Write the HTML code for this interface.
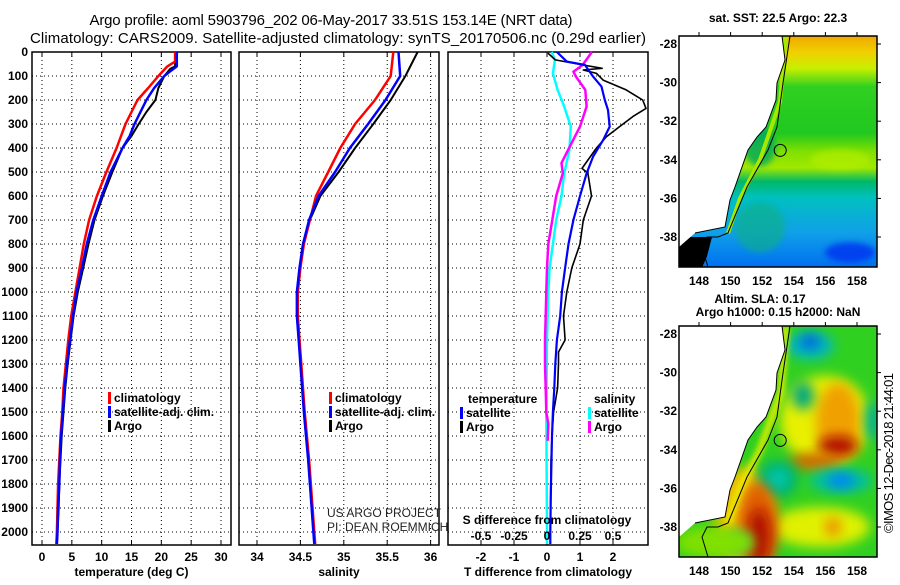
<!DOCTYPE html>
<html><head><meta charset="utf-8"><style>
html,body{margin:0;padding:0;background:#fff;}
svg text{font-family:"Liberation Sans",sans-serif;}
.b{font-weight:bold;font-size:12px;}
</style></head><body>
<svg id="s" width="900" height="580" viewBox="0 0 900 580" xmlns="http://www.w3.org/2000/svg">
<defs>
<filter id="bl" x="-50%" y="-50%" width="200%" height="200%"><feGaussianBlur stdDeviation="6"/></filter>
<filter id="bl2" x="-50%" y="-50%" width="200%" height="200%"><feGaussianBlur stdDeviation="3"/></filter>
<linearGradient id="sstg" x1="0" y1="0" x2="0" y2="1">
<stop offset="0" stop-color="#f0a800"/><stop offset="0.07" stop-color="#f0d000"/><stop offset="0.14" stop-color="#c8f000"/>
<stop offset="0.22" stop-color="#30d020"/><stop offset="0.42" stop-color="#20c820"/><stop offset="0.5" stop-color="#80e000"/>
<stop offset="0.57" stop-color="#a0e800"/><stop offset="0.63" stop-color="#00b868"/><stop offset="0.7" stop-color="#00c0c0"/>
<stop offset="0.85" stop-color="#10a0e8"/><stop offset="1" stop-color="#0070f0"/></linearGradient>
<clipPath id="c1"><rect x="679" y="36" width="198" height="231"/></clipPath>
<clipPath id="c2"><rect x="679" y="326" width="198" height="231"/></clipPath>
</defs>
<text x="331" y="25" font-size="15" text-anchor="middle" textLength="483">Argo profile: aoml 5903796_202 06-May-2017 33.51S 153.14E (NRT data)</text>
<text x="338" y="43" font-size="15" text-anchor="middle" textLength="616">Climatology: CARS2009. Satellite-adjusted climatology: synTS_20170506.nc (0.29d earlier)</text>
<g id="plots"></g>
<g id="maps"></g>
<text transform="translate(893,453) rotate(-90)" font-size="13" text-anchor="middle" textLength="160">©IMOS 12-Dec-2018 21:44:01</text>
</svg>
<script>
// ---- data ----
const tDepth=[0,40,60,100,150,200,300,400,500,600,700,800,900,1000,1100,1200,1300,1400,1500,1600,1700,1800,1900,2000,2050];
const tClim=[22.3,22.3,21,19.5,17.8,16,14,12.5,10.8,9.2,7.9,7,6.3,5.6,4.9,4.4,4,3.6,3.4,3.1,2.9,2.7,2.6,2.5,2.4];
const tDepthS=[0,60,80,100,150,200,300,350,400,500,600,700,800,900,1000,1100,1200,1300,1400,1500,1600,1700,1800,1900,2000,2050];
const tSat=[22.6,22.6,21.5,20.5,18.8,17.5,15.5,14.7,13.5,11.5,10,8.6,7.5,6.7,5.8,5.2,4.7,4.2,3.8,3.5,3.2,3,2.9,2.7,2.6,2.5];
const tDepthA=[0,60,70,100,150,200,250,300,350,400,500,600,700,800,900,1000,1100,1200,1300,1400,1500,1600,1700,1800,1900,2000,2050];
const tArgo=[22.3,22.3,21.5,20.5,19.5,19,17.5,16.2,15,13.5,11.8,10.2,8.8,7.8,6.9,6,5.3,4.8,4.3,3.9,3.6,3.3,3.1,2.9,2.8,2.6,2.5];
const sDepth=[0,100,200,300,400,500,600,700,800,900,1000,1100,1200,1300,1500,1700,2000,2050];
const sClim=[35.57,35.54,35.36,35.13,34.96,34.82,34.68,34.61,34.54,34.5,34.47,34.47,34.49,34.51,34.55,34.6,34.66,34.67];
const sSat=[35.63,35.65,35.48,35.28,35.07,34.9,34.71,34.6,34.53,34.49,34.46,34.46,34.48,34.5,34.54,34.59,34.65,34.66];
const sArgo=[35.85,35.71,35.54,35.34,35.13,34.94,34.73,34.61,34.53,34.49,34.46,34.46,34.48,34.51,34.54,34.59,34.65,34.66];
const dTDepthA=[5,33,54,68,75,89,117,158,200,235,269,311,353,400,485,505,600,700,800,900,1000,1100,1200,1250,1300,1400,1500,1600,1700,2000,2050];
const dTArgo=[0.03,0.25,1.1,1.67,1.1,1.5,1.7,2.4,2.9,3.0,2.6,2.2,1.8,1.5,1.06,1.24,1.35,1.1,1.0,0.75,0.6,0.5,0.55,0.35,0.35,0.32,0.2,0.15,0.12,0.1,0.1];
const dTDepthS=[0,40,54,103,144,200,242,311,367,435,506,600,700,800,900,1000,1100,1200,1300,1400,1500,1600,1800,2000,2050];
const dTSat=[0.3,0.6,1.15,1.4,1.65,1.75,1.85,1.9,1.7,1.4,1.2,1.0,0.8,0.65,0.55,0.45,0.4,0.3,0.25,0.22,0.18,0.15,0.12,0.1,0.1];
const dSDepthS=[0,33,89,158,227,311,408,506,600,700,800,900,1000,1200,1500,2000,2050];
const dSSat=[0.035,0.06,0.045,0.08,0.13,0.18,0.17,0.13,0.11,0.07,0.045,0.02,0.01,0,-0.005,0,0];
const dSDepthA=[0,54,82,103,158,227,311,408,463,506,600,700,800,900,1000,1100,1200,1300,1400,1500,1550,1620];
const dSArgo=[0.34,0.27,0.2,0.22,0.29,0.3,0.25,0.16,0.11,0.12,0.07,0.04,0.01,0,-0.005,-0.01,-0.015,-0.015,-0.01,-0.005,0.01,0.005];
const depthTicks=[0,100,200,300,400,500,600,700,800,900,1000,1100,1200,1300,1400,1500,1600,1700,1800,1900,2000];
const tTicks=[0,5,10,15,20,25,30];
const sTicks=[34,34.5,35,35.5,36];
const dTTicks=[-2,-1,0,1,2];
const dSTickLabels=['-0.5','-0.25','0','0.25','0.5'];
const dSTicks=[-0.5,-0.25,0,0.25,0.5];

const NS='http://www.w3.org/2000/svg';
function mk(tag,attrs,parent,txt){const e=document.createElementNS(NS,tag);for(const k in attrs)e.setAttribute(k,attrs[k]);if(txt!==undefined)e.textContent=txt;parent.appendChild(e);return e;}
const y=d=>52+d*0.24;
const PT=52,PB=545;
const xT=v=>42+v*(179/30);
const xS=v=>257+(v-34)*86.8;
const xD=v=>547+v*33;
const xDS=v=>547+v*132;
const G=document.getElementById('plots');

function panel(name,x0,x1,xs,ticks,labels,title){
  const g=mk('g',{},G);
  
  
  ticks.forEach(t=>{const l=mk('line',{x1:xs(t),x2:xs(t),y1:PT,y2:PB,stroke:'#000','stroke-width':1,'stroke-dasharray':'1,3'},g);
    });
  depthTicks.slice(1).forEach(d=>{const l=mk('line',{x1:x0,x2:x1,y1:y(d),y2:y(d),stroke:'#000','stroke-width':1,'stroke-dasharray':'1,3'},g);
    });
  ticks.forEach(t=>{mk('line',{x1:xs(t),x2:xs(t),y1:PB,y2:PB-5,stroke:'#000'},g);mk('line',{x1:xs(t),x2:xs(t),y1:PT,y2:PT+5,stroke:'#000'},g);});
  const r=mk('rect',{x:x0,y:PT,width:x1-x0,height:PB-PT,fill:'none',stroke:'#000','stroke-width':1.5},g);
  
  ticks.forEach((t,i)=>{const tx=mk('text',{x:xs(t),y:561,'text-anchor':'middle',class:'b'},g,labels[i]);
    });
  const tt=mk('text',{x:(x0+x1)/2,y:576,'text-anchor':'middle',class:'b'},g,title);
  
  return g;
}
function line(g,name,depths,vals,xs,col,w){
  const pts=depths.map((d,i)=>xs(vals[i]).toFixed(1)+','+y(d).toFixed(1)).join(' ');
  const p=mk('polyline',{points:pts,fill:'none',stroke:col,'stroke-width':w,'stroke-linejoin':'round'},g);
  
  
}
function legend(g,x,yy,items){
  items.forEach((it,i)=>{const cy=yy+i*14;
    mk('rect',{x:x,y:cy-6,width:3,height:12,fill:it[1]},g);
    const t=mk('text',{x:x+6,y:cy+4,class:'b'},g,it[0]);
    });
}
depthTicks.forEach(d=>{const t=mk('text',{x:28,y:y(d)+4,'text-anchor':'end',class:'b'},G,String(d));
  });

const g1=panel('temperature-panel',32,231,xT,tTicks,tTicks.map(String),'temperature (deg C)');
line(g1,'temperature-argo-line',tDepthA,tArgo,xT,'#000',2);
line(g1,'temperature-climatology-line',tDepth,tClim,xT,'#f00',2.5);
line(g1,'temperature-satellite-line',tDepthS,tSat,xT,'#00f',2.5);
legend(g1,108,398,[['climatology','#f00'],['satellite-adj. clim.','#00f'],['Argo','#000']]);

const g2=panel('salinity-panel',239,439,xS,sTicks,sTicks.map(String),'salinity');
line(g2,'salinity-argo-line',sDepth,sArgo,xS,'#000',2);
line(g2,'salinity-climatology-line',sDepth,sClim,xS,'#f00',2.5);
line(g2,'salinity-satellite-line',sDepth,sSat,xS,'#00f',2.5);
legend(g2,329,398,[['climatology','#f00'],['satellite-adj. clim.','#00f'],['Argo','#000']]);
const u1=mk('text',{x:327,y:517,'font-size':12,fill:'#222'},g2,'US ARGO PROJECT');

const u2=mk('text',{x:327,y:531,'font-size':12,fill:'#222'},g2,'PI: DEAN ROEMMICH');


const g3=panel('difference-panel',448,648,xD,dTTicks,dTTicks.map(String),'T difference from climatology');
line(g3,'salinity-diff-satellite-line',dSDepthS,dSSat,xDS,'#00ffff',2.5);
line(g3,'salinity-diff-argo-line',dSDepthA,dSArgo,xDS,'#ff00ff',2.5);
line(g3,'temperature-diff-argo-line',dTDepthA,dTArgo,xD,'#000',1.6);
line(g3,'temperature-diff-satellite-line',dTDepthS,dTSat,xD,'#00f',2.2);
const st=mk('text',{x:547,y:524,'text-anchor':'middle',class:'b'},g3,'S difference from climatology');

dSTicks.forEach((v,i)=>{const t=mk('text',{x:xDS(v),y:540,'text-anchor':'middle',class:'b'},g3,dSTickLabels[i]);
  });
let lt=mk('text',{x:468,y:403,class:'b'},g3,'temperature');
legend(g3,460,413,[['satellite','#00f'],['Argo','#000']]);
lt=mk('text',{x:594,y:403,class:'b'},g3,'salinity');
legend(g3,588,413,[['satellite','#00ffff'],['Argo','#ff00ff']]);

// ---- maps ----
const lonTicks=[148,150,152,154,156,158];
const latTicks=[-28,-30,-32,-34,-36,-38];
const M=document.getElementById('maps');
const mx=lon=>699+(lon-148)*15.8;
const land=[[679,0],[782,0],[785,24],[777,47],[776,64],[766,91],[757,101],[748,114],[742,131],[735,151],[730,164],[725,191],[695,197],[679,211]];
const iso=[[790,0],[783,47],[777,91],[768,114],[747,151],[728,197],[718,201],[707,201],[702,211],[708,231]];
function mapFrame(name,top,title1,title2,clip,drawOcean){
  const g=mk('g',{},M);
  
  
  const my=lat=>top+8+(-28-lat)*19.3;
  const og=mk('g',{'clip-path':'url(#'+clip+')'},g);
  drawOcean(og,my);
  mk('polygon',{points:land.map(p=>p[0]+','+(p[1]+top)).join(' '),fill:'#fff'},og);
  mk('polyline',{points:land.slice(1,-1).map(p=>p[0]+','+(p[1]+top)).join(' '),fill:'none',stroke:'#000','stroke-width':1},og);
  mk('polyline',{points:iso.map(p=>p[0]+','+(p[1]+top)).join(' '),fill:'none',stroke:'#000','stroke-width':1},og);
  const c=mk('circle',{cx:mx(153.14),cy:my(-33.51),r:6,fill:'none',stroke:'#000','stroke-width':1},g);
  
  mk('rect',{x:679,y:top,width:198,height:231,fill:'none',stroke:'#000','stroke-width':1.5},g);
  lonTicks.forEach(l=>{mk('line',{x1:mx(l),x2:mx(l),y1:top,y2:top-4,stroke:'#000'},g);
    const t=mk('text',{x:mx(l),y:top+231+18,'text-anchor':'middle',class:'b'},g,String(l));
    });
  latTicks.forEach(l=>{mk('line',{x1:877,x2:881,y1:my(l),y2:my(l),stroke:'#000'},g);
    const t=mk('text',{x:677,y:my(l)+4,'text-anchor':'end',class:'b'},g,String(l));
    });
  let t=mk('text',{x:title2?760:778,y:title2?top-23:top-14,'text-anchor':'middle',class:'b'},g,title1);
  
  if(title2){t=mk('text',{x:778,y:top-10,'text-anchor':'middle',class:'b'},g,title2);
    }
}
mapFrame('sst-map',36,'sat. SST: 22.5 Argo: 22.3',null,'c1',(g,my)=>{
  mk('rect',{x:679,y:36,width:198,height:231,fill:'url(#sstg)'},g);
  mk('ellipse',{cx:840,cy:my(-34),rx:30,ry:10,fill:'#b8f000',opacity:0.6,filter:'url(#bl2)'},g);
  mk('ellipse',{cx:760,cy:my(-33.3),rx:16,ry:20,fill:'#00a860',opacity:0.8,filter:'url(#bl2)'},g);
  mk('ellipse',{cx:760,cy:my(-37.5),rx:25,ry:25,fill:'#10b080',opacity:0.6,filter:'url(#bl2)'},g);
  mk('ellipse',{cx:850,cy:my(-38.8),rx:25,ry:10,fill:'#0030f0',opacity:0.8,filter:'url(#bl2)'},g);
  mk('polygon',{points:'679,'+my(-38)+' 712,'+my(-38)+' 707,'+my(-39)+' 702,'+my(-39.6)+' 679,'+my(-39.6),fill:'#000'},g);
  mk('polyline',{points:'786,36 780,'+my(-31)+' 760,'+my(-34)+' 740,'+my(-36)+' 728,'+my(-37.8),fill:'none',stroke:'#a8e800','stroke-width':4},g);
});
mapFrame('sla-map',326,'Altim. SLA: 0.17','Argo h1000: 0.15 h2000: NaN','c2',(g,my)=>{
  mk('rect',{x:679,y:326,width:198,height:231,fill:'#30d020'},g);
  const blobs=[
   [825,my(-32.5),45,45,'#e8f000'],[820,my(-38),50,20,'#e0f000'],[745,my(-37.5),30,50,'#f0c000'],
   [838,my(-32.5),22,38,'#f0a000'],[838,my(-33.8),20,10,'#b01000'],[815,my(-34.6),26,8,'#d06000'],
   [778,my(-35.5),20,18,'#00b070'],[778,my(-35.5),11,10,'#00c8b0'],[841,my(-35.6),32,12,'#00c0a0'],[841,my(-35.6),14,7,'#0080ff'],
   [810,my(-28.6),24,14,'#00b8c0'],[810,my(-28.4),10,7,'#0060e0'],[803,my(-31.2),11,14,'#00a880'],
   [758,my(-38),20,45,'#e06000'],[759,my(-38.5),11,28,'#b00800'],[737,my(-38.8),12,10,'#00b8a0'],
   [873,my(-32.5),8,20,'#00b090'],[833,my(-38),8,10,'#f09000'],[715,my(-38.8),40,16,'#80e000']];
  blobs.forEach(b=>mk('ellipse',{cx:b[0],cy:b[1],rx:b[2],ry:b[3],fill:b[4],filter:'url(#bl)'},g));
  mk('polyline',{points:'786,326 781,'+my(-31)+' 760,'+my(-34)+' 740,'+my(-36)+' 728,'+my(-37.8),fill:'none',stroke:'#e8f000','stroke-width':6,filter:'url(#bl2)'},g);
});
</script>
</body></html>
